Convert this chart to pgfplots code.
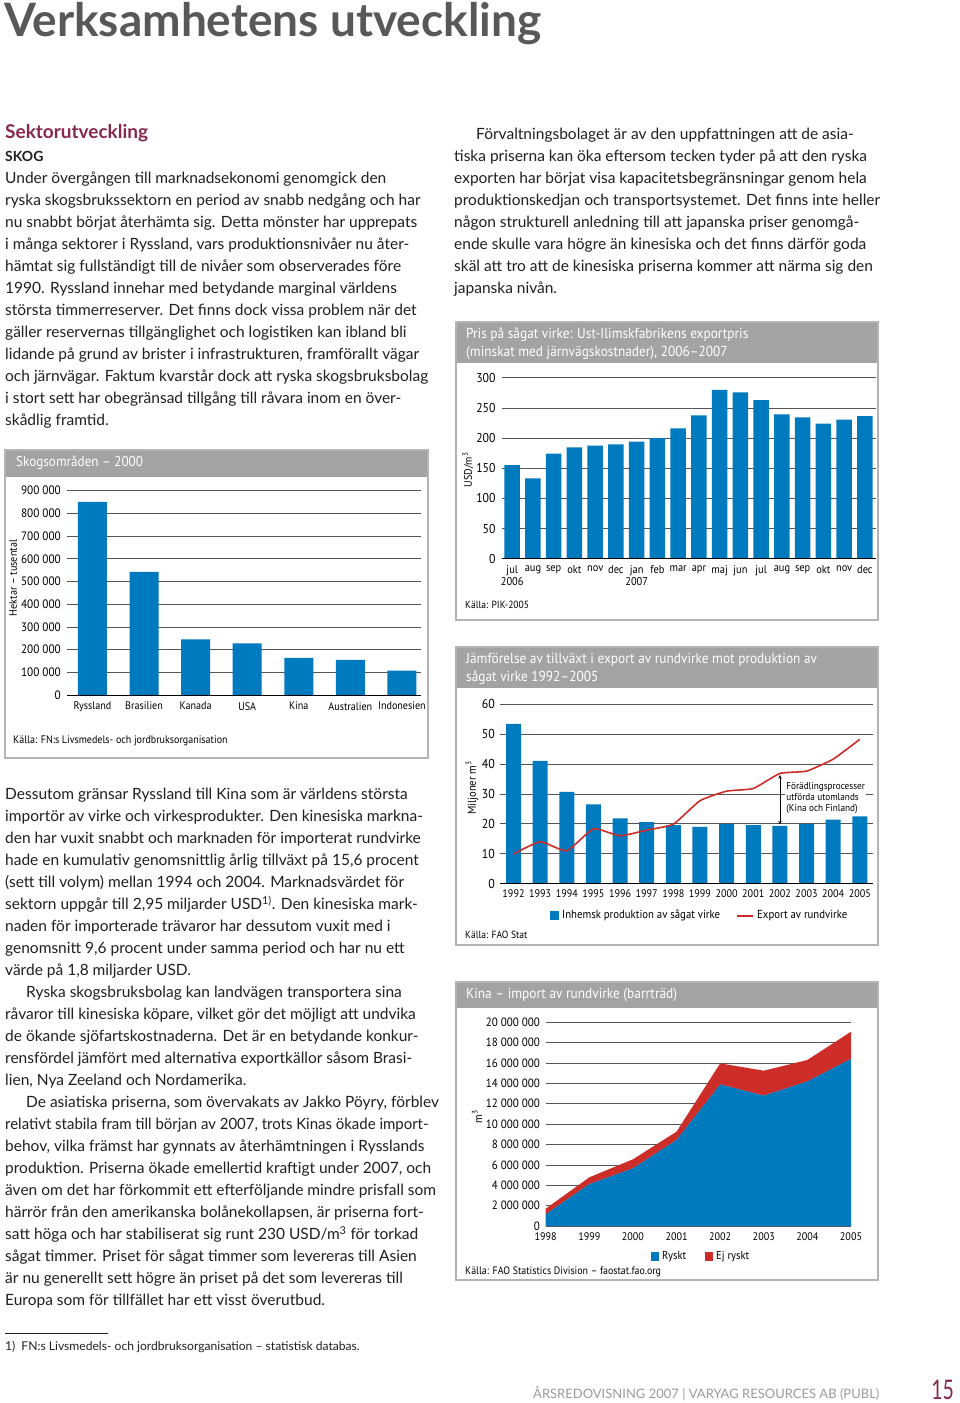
\documentclass[border=0pt]{standalone}
\usepackage{fontspec}
\usepackage{pgfplots}
\pgfplotsset{compat=1.18}
\setmainfont{Lato}
\newfontfamily\chartfont[FakeStretch=0.92]{PT Sans}
\definecolor{cblue}{RGB}{0,122,190}
\definecolor{cred}{RGB}{204,45,40}
\definecolor{hgray}{RGB}{163,163,163}
\definecolor{bgray}{RGB}{180,180,180}
\definecolor{gridc}{RGB}{85,85,85}
\definecolor{maroon}{RGB}{135,40,80}
\definecolor{txt}{RGB}{35,31,32}
\definecolor{titlegray}{RGB}{88,88,88}
\definecolor{footgray}{RGB}{155,155,155}
\newcommand\bodyfont{\fontsize{15.5}{22}\selectfont}
\newcommand\bl[3]{\node[anchor=base west,inner sep=0pt,font=\bodyfont,text=txt] at (#1,#2) {#3};}
\newcommand\cf[1]{\chartfont\fontsize{#1}{#1}\selectfont}
\pgfplotsset{
  chart/.style={scale only axis, anchor=south west, clip=false,
    axis line style={draw=none}, tick style={draw=none}, major tick length=0pt,
    ymajorgrids, grid style={gridc, line width=0.7pt},
    scaled y ticks=false, scaled x ticks=false,
    tick label style={text=black},
    yticklabel style={anchor=east, inner sep=0pt},
    xticklabel style={anchor=north, inner sep=0pt}}
}
\begin{document}
\begin{tikzpicture}
\useasboundingbox (0pt,0pt) rectangle (960pt,-1403pt);
\fill[white] (0pt,0pt) rectangle (960pt,-1403pt);
\begin{scope}[x=1pt,y=-1pt]
% page title
\node[anchor=base west,inner sep=0pt,text=titlegray,font=\fontsize{46}{46}\selectfont\bfseries] at (4,36.5) {Verksamhetens utveckling};
\node[anchor=base west,inner sep=0pt,text=maroon,font=\fontsize{19}{19}\selectfont\bfseries] at (5,138) {Sektorutveckling};
\node[anchor=base west,inner sep=0pt,text=txt,font=\fontsize{14}{14}\selectfont\bfseries] at (5,161) {SKOG};
% left top paragraph
\bl{5}{183.3}{Under övergången till marknadsekonomi genomgick den}
\bl{5}{205.3}{ryska skogsbrukssektorn en period av snabb nedgång och har}
\bl{5}{227.3}{nu snabbt börjat återhämta sig. Detta mönster har upprepats}
\bl{5}{249.3}{i många sektorer i Ryssland, vars produktionsnivåer nu åter-}
\bl{5}{271.3}{hämtat sig fullständigt till de nivåer som observerades före}
\bl{5}{293.3}{1990. Ryssland innehar med betydande marginal världens}
\bl{5}{315.3}{största timmerreserver. Det finns dock vissa problem när det}
\bl{5}{337.3}{gäller reservernas tillgänglighet och logistiken kan ibland bli}
\bl{5}{359.3}{lidande på grund av brister i infrastrukturen, framförallt vägar}
\bl{5}{381.3}{och järnvägar. Faktum kvarstår dock att ryska skogsbruksbolag}
\bl{5}{403.3}{i stort sett har obegränsad tillgång till råvara inom en över-}
\bl{5}{425.3}{skådlig framtid.}
% right column
\bl{476}{139}{Förvaltningsbolaget är av den uppfattningen att de asia-}
\bl{454}{161}{tiska priserna kan öka eftersom tecken tyder på att den ryska}
\bl{454}{183}{exporten har börjat visa kapacitetsbegränsningar genom hela}
\bl{454}{205}{produktionskedjan och transportsystemet. Det finns inte heller}
\bl{454}{227}{någon strukturell anledning till att japanska priser genomgå-}
\bl{454}{249}{ende skulle vara högre än kinesiska och det finns därför goda}
\bl{454}{271}{skäl att tro att de kinesiska priserna kommer att närma sig den}
\bl{454}{293}{japanska nivån.}
% lower left
\bl{5}{799.5}{Dessutom gränsar Ryssland till Kina som är världens största}
\bl{5}{821.5}{importör av virke och virkesprodukter. Den kinesiska markna-}
\bl{5}{843.5}{den har vuxit snabbt och marknaden för importerat rundvirke}
\bl{5}{865.5}{hade en kumulativ genomsnittlig årlig tillväxt på 15,6 procent}
\bl{5}{887.5}{(sett till volym) mellan 1994 och 2004. Marknadsvärdet för}
\bl{5}{909.5}{sektorn uppgår till 2,95 miljarder USD\textsuperscript{1)}. Den kinesiska mark-}
\bl{5}{931.5}{naden för importerade trävaror har dessutom vuxit med i}
\bl{5}{953.5}{genomsnitt 9,6 procent under samma period och har nu ett}
\bl{5}{975.5}{värde på 1,8 miljarder USD.}
\bl{26}{997.5}{Ryska skogsbruksbolag kan landvägen transportera sina}
\bl{5}{1019.5}{råvaror till kinesiska köpare, vilket gör det möjligt att undvika}
\bl{5}{1041.5}{de ökande sjöfartskostnaderna. Det är en betydande konkur-}
\bl{5}{1063.5}{rensfördel jämfört med alternativa exportkällor såsom Brasi-}
\bl{5}{1085.5}{lien, Nya Zeeland och Nordamerika.}
\bl{26}{1107.5}{De asiatiska priserna, som övervakats av Jakko Pöyry, förblev}
\bl{5}{1129.5}{\scalebox{0.965}[1]{relativt stabila fram till början av 2007, trots Kinas ökade import-}}
\bl{5}{1151.5}{behov, vilka främst har gynnats av återhämtningen i Rysslands}
\bl{5}{1173.5}{produktion. Priserna ökade emellertid kraftigt under 2007, och}
\bl{5}{1195.5}{även om det har förkommit ett efterföljande mindre prisfall som}
\bl{5}{1217.5}{härrör från den amerikanska bolånekollapsen, är priserna fort-}
\bl{5}{1239.5}{satt höga och har stabiliserat sig runt 230 USD/m\textsuperscript{3} för torkad}
\bl{5}{1261.5}{sågat timmer. Priset för sågat timmer som levereras till Asien}
\bl{5}{1283.5}{är nu generellt sett högre än priset på det som levereras till}
\bl{5}{1305.5}{Europa som för tillfället har ett visst överutbud.}
% footnote and footer
\draw[txt,line width=0.6pt] (5,1333) -- (108,1333);
\node[anchor=base west,inner sep=0pt,text=txt,font=\fontsize{12.1}{12.1}\selectfont] at (5,1350) {1)\enspace FN:s Livsmedels- och jordbruksorganisation – statistisk databas.};
\node[anchor=base west,inner sep=0pt,text=footgray,font=\fontsize{13}{13}\selectfont] at (533,1398) {ÅRSREDOVISNING 2007 | VARYAG RESOURCES AB (PUBL)};
\node[anchor=base east,inner sep=0pt,text=maroon,font=\fontsize{27}{27}\selectfont] at (954,1399) {\scalebox{0.72}[1]{15}};
% chart boxes
\fill[hgray] (5,450) rectangle (428,477);
\draw[bgray,line width=1.5pt] (5,450) rectangle (428,758);
\fill[hgray] (456,322) rectangle (878,363);
\draw[bgray,line width=1.5pt] (456,322) rectangle (878,620);
\fill[hgray] (456,647) rectangle (878,688);
\draw[bgray,line width=1.5pt] (456,647) rectangle (878,945);
\fill[hgray] (456,982) rectangle (878,1008);
\draw[bgray,line width=1.5pt] (456,982) rectangle (878,1280);
% chart 1 texts
\node[anchor=west,inner sep=0pt,text=white,font=\cf{14.3}] at (16,463) {Skogsområden – 2000};
\node[rotate=90,inner sep=0pt,font=\cf{11}] at (13,578) {Hektar – tusental};
\node[anchor=west,inner sep=0pt,font=\cf{10.9}] at (13,741) {Källa: FN:s Livsmedels- och jordbruksorganisation};
% chart 2 texts
\node[anchor=west,inner sep=0pt,text=white,font=\cf{14.5}] at (466,335) {Pris på sågat virke: Ust-Ilimskfabrikens exportpris};
\node[anchor=west,inner sep=0pt,text=white,font=\cf{14.5}] at (466,353) {(minskat med järnvägskostnader), 2006–2007};
\node[rotate=90,inner sep=0pt,font=\cf{11}] at (468,470) {USD/m\textsuperscript{3}};
\node[anchor=west,inner sep=0pt,font=\cf{10.4}] at (465,605) {Källa: PIK-2005};
% chart 3 texts
\node[anchor=west,inner sep=0pt,text=white,font=\cf{14.5}] at (466,660) {Jämförelse av tillväxt i export av rundvirke mot produktion av};
\node[anchor=west,inner sep=0pt,text=white,font=\cf{14.5}] at (466,678) {sågat virke 1992–2005};
\node[rotate=90,inner sep=0pt,font=\cf{11.5}] at (472,788) {Miljoner m\textsuperscript{3}};
\node[anchor=west,inner sep=0pt,font=\cf{10.4}] at (465,935) {Källa: FAO Stat};
\fill[cblue] (550,911) rectangle (559,920);
\node[anchor=west,inner sep=0pt,font=\cf{11.7}] at (562,915.7) {Inhemsk produktion av sågat virke};
\draw[cred,line width=2pt] (737,915.7) -- (753,915.7);
\node[anchor=west,inner sep=0pt,font=\cf{11.7}] at (757,915.7) {Export av rundvirke};
% chart 4 texts
\node[anchor=west,inner sep=0pt,text=white,font=\cf{14.5}] at (466,995) {Kina – import av rundvirke (barrträd)};
\node[rotate=90,inner sep=0pt,font=\cf{11.5}] at (477,1117) {m\textsuperscript{3}};
\fill[cblue] (651,1252) rectangle (659,1261);
\node[anchor=west,inner sep=0pt,font=\cf{11.5}] at (662,1256.7) {Ryskt};
\fill[cred] (705,1252) rectangle (713,1261);
\node[anchor=west,inner sep=0pt,font=\cf{11.5}] at (716,1256.7) {Ej ryskt};
\node[anchor=west,inner sep=0pt,font=\cf{10.8}] at (465,1272) {Källa: FAO Statistics Division – faostat.fao.org};
\end{scope}

% ---------- Chart 1: Skogsområden 2000 ----------
\begin{axis}[chart, at={(67pt,-695pt)}, width=354pt, height=204.3pt,
  xmin=-0.494, xmax=6.37, ymin=0, ymax=900000,
  ytick={0,100000,200000,300000,400000,500000,600000,700000,800000,900000},
  yticklabels={0,100 000,200 000,300 000,400 000,500 000,600 000,700 000,800 000,900 000},
  xtick={0,1,2,3,4,5,6},
  xticklabels={Ryssland,Brasilien,Kanada,USA,Kina,Australien,Indonesien},
  yticklabel style={font=\cf{12.2}, xshift=-6pt},
  xticklabel style={font=\cf{11}, yshift=-7pt}]
\addplot[ybar, bar width=29pt, fill=cblue, draw=none] coordinates
  {(0,851000) (1,543000) (2,245000) (3,228000) (4,164000) (5,155000) (6,107000)};
\draw[black,line width=0.9pt] (rel axis cs:0,0) -- (rel axis cs:1,0);
\end{axis}

% ---------- Chart 2: Pris på sågat virke ----------
\begin{axis}[chart, at={(501.7pt,-558.7pt)}, width=374pt, height=181pt,
  xmin=-0.506, xmax=17.52, ymin=0, ymax=300,
  ytick={0,50,100,150,200,250,300},
  yticklabels={0,50,100,150,200,250,300},
  xtick={0,1,2,3,4,5,6,7,8,9,10,11,12,13,14,15,16,17},
  xticklabels={{jul\\2006},aug,sep,okt,nov,dec,{jan\\2007},feb,mar,apr,maj,jun,jul,aug,sep,okt,nov,dec},
  yticklabel style={font=\cf{12.8}, xshift=-6pt},
  xticklabel style={font=\chartfont\fontsize{11.3}{11.5}\selectfont, align=center, yshift=-7pt}]
\addplot[ybar, bar width=15.5pt, fill=cblue, draw=none] coordinates
  {(0,155) (1,133) (2,174) (3,184.5) (4,187.3) (5,189.5) (6,194) (7,200) (8,216)
   (9,237.6) (10,280) (11,275.7) (12,263) (13,239.2) (14,234.3) (15,223.8) (16,230.4) (17,236.5)};
\draw[black,line width=0.9pt] (rel axis cs:0,0) -- (rel axis cs:1,0);
\end{axis}

% ---------- Chart 3: Jämförelse ----------
\begin{axis}[chart, at={(500pt,-883.7pt)}, width=373.3pt, height=179.7pt,
  xmin=1991.493, xmax=2005.507, ymin=0, ymax=60,
  ytick={0,10,20,30,40,50,60},
  yticklabels={0,10,20,30,40,50,60},
  xtick={1992,1993,1994,1995,1996,1997,1998,1999,2000,2001,2002,2003,2004,2005},
  xticklabels={1992,1993,1994,1995,1996,1997,1998,1999,2000,2001,2002,2003,2004,2005},
  yticklabel style={font=\cf{13}, xshift=-5pt},
  xticklabel style={font=\cf{11}, yshift=-6pt}]
\addplot[ybar, bar width=15pt, fill=cblue, draw=none] coordinates
  {(1992,53.4) (1993,41.0) (1994,30.7) (1995,26.5) (1996,21.8) (1997,20.6) (1998,19.6)
   (1999,19.0) (2000,19.9) (2001,19.6) (2002,19.3) (2003,19.9) (2004,21.4) (2005,22.5)};
\addplot[cred, line width=1.6pt, smooth, tension=0.3] coordinates
  {(1992,9.9) (1993,14.0) (1994,11.0) (1995,18.3) (1996,16.0) (1997,17.9) (1998,19.9)
   (1999,27.7) (2000,30.9) (2001,31.8) (2002,36.8) (2003,37.6) (2004,41.6) (2005,48.2)};
\draw[black,line width=0.9pt] (rel axis cs:0,0) -- (rel axis cs:1,0);
\draw[black,line width=0.6pt,<->,>=stealth] (axis cs:2002,36.3) -- (axis cs:2002,19.8);
\node[anchor=west,fill=white,inner sep=1pt,align=left,font=\chartfont\fontsize{10}{11}\selectfont]
  at (axis cs:2002.2,28.7) {Förädlingsprocesser\\utförda utomlands\\(Kina och Finland)};
\end{axis}

% ---------- Chart 4: Kina import ----------
\begin{axis}[chart, at={(545.7pt,-1226pt)}, width=305.3pt, height=203.7pt,
  xmin=1998, xmax=2005, ymin=0, ymax=20000000, stack plots=y,
  ytick={0,2000000,4000000,6000000,8000000,10000000,12000000,14000000,16000000,18000000,20000000},
  yticklabels={0,2 000 000,4 000 000,6 000 000,8 000 000,10 000 000,12 000 000,14 000 000,16 000 000,18 000 000,20 000 000},
  xtick={1998,1999,2000,2001,2002,2003,2004,2005},
  xticklabels={1998,1999,2000,2001,2002,2003,2004,2005},
  yticklabel style={font=\cf{12}, xshift=-5.7pt},
  xticklabel style={font=\cf{11}, yshift=-6.5pt}]
\addplot[fill=cblue, draw=none] coordinates
  {(1998,1150000) (1999,4120000) (2000,5660000) (2001,8450000) (2002,13900000) (2003,12800000) (2004,14200000) (2005,16400000)} \closedcycle;
\addplot[fill=cred, draw=none] coordinates
  {(1998,550000) (1999,660000) (2000,890000) (2001,810000) (2002,2070000) (2003,2450000) (2004,2100000) (2005,2680000)} \closedcycle;
\end{axis}
\end{tikzpicture}
\end{document}
